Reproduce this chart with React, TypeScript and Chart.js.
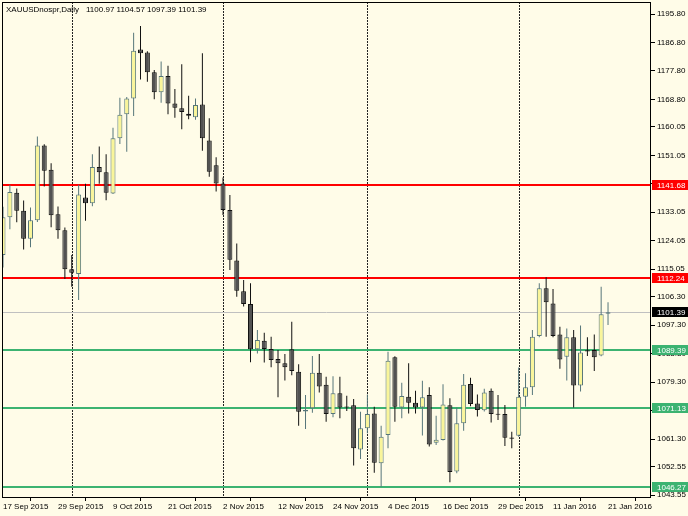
import React, { useEffect, useRef } from 'react';
import { Chart, registerables } from 'chart.js';
Chart.register(...registerables);

// ---- data ----
const dates = [
  '17 Sep 2015','18 Sep 2015','21 Sep 2015','22 Sep 2015','23 Sep 2015','24 Sep 2015','25 Sep 2015','28 Sep 2015','29 Sep 2015','30 Sep 2015',
  '1 Oct 2015','2 Oct 2015','5 Oct 2015','6 Oct 2015','7 Oct 2015','8 Oct 2015','9 Oct 2015','12 Oct 2015','13 Oct 2015','14 Oct 2015','15 Oct 2015','16 Oct 2015','19 Oct 2015','20 Oct 2015','21 Oct 2015','22 Oct 2015','23 Oct 2015','26 Oct 2015','27 Oct 2015','28 Oct 2015','29 Oct 2015','30 Oct 2015',
  '2 Nov 2015','3 Nov 2015','4 Nov 2015','5 Nov 2015','6 Nov 2015','9 Nov 2015','10 Nov 2015','11 Nov 2015','12 Nov 2015','13 Nov 2015','16 Nov 2015','17 Nov 2015','18 Nov 2015','19 Nov 2015','20 Nov 2015','23 Nov 2015','24 Nov 2015','25 Nov 2015','26 Nov 2015','27 Nov 2015','30 Nov 2015',
  '1 Dec 2015','2 Dec 2015','3 Dec 2015','4 Dec 2015','7 Dec 2015','8 Dec 2015','9 Dec 2015','10 Dec 2015','11 Dec 2015','14 Dec 2015','15 Dec 2015','16 Dec 2015','17 Dec 2015','18 Dec 2015','21 Dec 2015','22 Dec 2015','23 Dec 2015','24 Dec 2015','28 Dec 2015','29 Dec 2015','30 Dec 2015','31 Dec 2015',
  '4 Jan 2016','5 Jan 2016','6 Jan 2016','7 Jan 2016','8 Jan 2016','11 Jan 2016','12 Jan 2016','13 Jan 2016','14 Jan 2016','15 Jan 2016','18 Jan 2016','19 Jan 2016','20 Jan 2016','21 Jan 2016',
];

const opens = [
  1119.5,1131.5,1139.2,1133.5,1124.7,1130.5,1154.2,1146.5,1132.4,1127.4,
  1115.0,1113.5,1137.7,1135.9,1147.4,1145.7,1139.0,1156.5,1164.1,1169.1,1184.6,1183.6,1177.4,1171.0,1176.2,1167.5,1166.0,1164.2,1163.1,1167.2,1155.8,1147.9,
  1142.2,1133.8,1117.8,1108.1,1104.0,1089.7,1092.4,1089.8,1086.6,1085.3,1089.7,1082.6,1070.0,1071.0,1082.3,1078.5,1069.2,1075.8,1071.5,1072.0,1058.0,
  1064.7,1069.4,1053.6,1062.6,1087.2,1071.3,1074.7,1072.8,1071.3,1075.2,1060.1,1061.0,1072.0,1051.0,1066.3,1078.7,1072.5,1070.4,1076.6,1069.3,1069.2,1061.8,
  1062.3,1074.7,1077.7,1093.9,1109.0,1104.2,1094.4,1087.3,1093.5,1078.2,1089.4,1089.5,1087.7,1100.97,
];
const highs = [
  1134.8,1141.8,1140.6,1136.8,1134.6,1157.0,1154.6,1148.6,1134.9,1128.2,
  1119.5,1141.8,1142.1,1151.4,1153.9,1151.4,1159.8,1169.3,1169.5,1189.9,1192.0,1184.0,1178.1,1180.8,1179.4,1172.1,1179.9,1169.9,1169.1,1183.4,1162.8,1150.5,
  1144.1,1138.5,1123.2,1111.6,1110.6,1095.8,1094.9,1093.7,1089.5,1088.2,1098.4,1085.0,1075.2,1087.6,1088.2,1081.0,1081.2,1081.0,1075.0,1074.0,1069.9,
  1075.4,1071.5,1065.5,1088.9,1087.5,1079.1,1085.3,1076.6,1079.7,1077.7,1068.7,1078.6,1074.2,1071.3,1081.9,1080.7,1075.4,1077.2,1077.3,1075.2,1072.1,1063.6,
  1083.9,1082.1,1095.8,1110.6,1112.5,1108.8,1096.8,1096.3,1095.8,1097.2,1093.5,1094.4,1109.5,1104.57,
];
const lows = [
  1115.6,1127.7,1129.9,1121.3,1122.0,1130.0,1141.2,1128.3,1124.7,1111.9,
  1109.5,1105.3,1130.4,1135.0,1142.1,1136.9,1138.8,1154.7,1152.2,1163.5,1175.1,1174.4,1168.8,1167.7,1164.1,1163.0,1159.3,1162.5,1162.3,1152.5,1144.3,1139.6,
  1132.2,1114.8,1106.3,1103.2,1085.6,1088.4,1085.5,1084.0,1074.5,1079.8,1081.5,1065.5,1064.5,1069.6,1076.0,1066.8,1068.2,1067.9,1070.2,1052.9,1055.0,
  1063.1,1050.6,1046.2,1058.4,1066.8,1067.9,1069.4,1069.4,1062.4,1058.9,1059.4,1060.8,1047.6,1050.5,1063.9,1071.7,1068.4,1070.0,1066.5,1067.3,1059.1,1058.4,
  1062.0,1071.5,1075.2,1093.5,1093.7,1093.5,1083.5,1079.8,1071.3,1076.3,1087.6,1082.8,1087.5,1097.39,
];
const closes = [
  1131.5,1139.5,1133.5,1124.7,1130.5,1154.2,1146.2,1132.1,1127.4,1115.0,
  1113.9,1138.7,1135.9,1147.4,1145.7,1139.2,1156.5,1163.9,1169.1,1184.2,1183.4,1177.4,1171.0,1176.2,1167.5,1166.1,1164.8,1163.6,1167.0,1156.5,1145.9,1142.2,
  1133.8,1118.0,1108.2,1104.0,1089.7,1092.6,1089.8,1086.3,1085.3,1084.0,1082.8,1069.9,1070.5,1082.3,1077.9,1069.2,1075.8,1071.3,1071.3,1058.4,1064.7,
  1069.2,1053.8,1062.0,1086.1,1071.5,1074.9,1072.8,1071.3,1074.5,1059.6,1061.1,1072.2,1050.9,1066.3,1078.5,1072.4,1070.5,1076.0,1069.2,1069.0,1061.7,1061.4,
  1074.7,1077.7,1093.7,1109.0,1104.6,1093.9,1086.5,1093.5,1078.2,1088.7,1089.0,1087.2,1100.8,1101.39,
];

const yTickValues = [
  1195.80,1186.80,1177.80,1168.80,1160.05,1151.05,1142.05,1133.05,1124.05,
  1115.05,1106.30,1097.30,1088.30,1079.30,1070.30,1061.30,1052.55,1043.55,
];
const xLabelEvery = 8;
const redLevels = [1141.68, 1112.24];
const greenLevels = [1089.39, 1071.13, 1046.27];
const bidPrice = 1101.39;
const symbolTitle = 'XAUUSDnospr,Daily';
const lastBar = { o: 1100.97, h: 1104.57, l: 1097.39, c: 1101.39 };

const priceMin = 1042.95;
const priceMax = 1199.6;
const xMin = -0.145;
const xMax = 94.25;

// ---- style ----
const BG = '#fffce8';
const BULL_FILL = '#f9f59a';
const BULL_LINE = '#56767a';
const BEAR_FILL = '#525252';
const BEAR_LINE = '#111111';
const RED = '#ff0000';
const GREEN = '#3cb371';
const FONT = 'Liberation Sans, Arial, sans-serif';

export default function App() {
  const ref = useRef<HTMLCanvasElement>(null);

  useEffect(() => {
    const bull = closes.map((c, i) => c >= opens[i]);
    const monthStarts: number[] = [];
    for (let i = 1; i < dates.length; i++) {
      if (dates[i].split(' ')[1] !== dates[i - 1].split(' ')[1]) monthStarts.push(i);
    }

    const overlay = {
      id: 'mt4overlay',
      beforeDraw(chart: any) {
        const ctx = chart.ctx;
        ctx.save();
        ctx.fillStyle = BG;
        ctx.fillRect(0, 0, chart.width, chart.height);
        ctx.restore();
      },
      beforeDatasetsDraw(chart: any) {
        const { ctx, chartArea: a, scales } = chart;
        const xs = scales.x, ys = scales.y;
        ctx.save();
        // month separators
        ctx.strokeStyle = '#222';
        ctx.lineWidth = 1;
        ctx.setLineDash([2, 1]);
        monthStarts.forEach((i) => {
          const px = Math.round(xs.getPixelForValue(i)) + 0.5;
          ctx.beginPath();
          ctx.moveTo(px, a.top);
          ctx.lineTo(px, a.bottom);
          ctx.stroke();
        });
        ctx.setLineDash([]);
        // bid line
        const by = Math.round(ys.getPixelForValue(bidPrice)) + 0.5;
        ctx.strokeStyle = '#c0c0c0';
        ctx.beginPath();
        ctx.moveTo(a.left, by);
        ctx.lineTo(a.right, by);
        ctx.stroke();
        // levels
        const drawLevel = (v: number, col: string) => {
          const y = Math.round(ys.getPixelForValue(v));
          ctx.fillStyle = col;
          ctx.fillRect(a.left, y - 1, a.right - a.left, 2);
        };
        redLevels.forEach((v) => drawLevel(v, RED));
        greenLevels.forEach((v) => drawLevel(v, GREEN));
        ctx.restore();
      },
      afterDraw(chart: any) {
        const { ctx, chartArea: a, scales } = chart;
        const ys = scales.y;
        ctx.save();
        // frame
        ctx.strokeStyle = '#000';
        ctx.lineWidth = 1;
        ctx.strokeRect(a.left + 0.5, a.top + 0.5, a.right - a.left - 1, a.bottom - a.top);
        // price boxes
        ctx.font = `8px ${FONT}`;
        ctx.textBaseline = 'middle';
        ctx.textAlign = 'left';
        const box = (v: number, col: string) => {
          const y = Math.round(ys.getPixelForValue(v));
          ctx.fillStyle = col;
          ctx.fillRect(a.right + 1, y - 5, chart.width - a.right - 1, 10);
          ctx.fillStyle = '#ffffff';
          ctx.fillText(v.toFixed(2), a.right + 6, y + 0.5);
        };
        redLevels.forEach((v) => box(v, RED));
        greenLevels.forEach((v) => box(v, GREEN));
        box(bidPrice, '#000000');
        // title
        ctx.fillStyle = '#000';
        ctx.textBaseline = 'alphabetic';
        ctx.fillText(symbolTitle, 6, 12);
        ctx.fillText(
          [lastBar.o, lastBar.h, lastBar.l, lastBar.c].map((v) => v.toFixed(2)).join(' '),
          86,
          12
        );
        ctx.restore();
      },
    };

    const chart = new Chart(ref.current as HTMLCanvasElement, {
      type: 'bar',
      data: {
        datasets: [
          {
            label: 'body',
            data: dates.map((_, i) => ({ x: i, y: [opens[i], closes[i]] })) as any,
            backgroundColor: bull.map((b) => (b ? BULL_FILL : BEAR_FILL)),
            borderColor: bull.map((b) => (b ? BULL_LINE : BEAR_LINE)),
            borderWidth: 1,
            borderSkipped: false,
            barThickness: 5,
            minBarLength: 1,
            grouped: false,
            inflateAmount: 0,
          } as any,
          {
            label: 'wick',
            data: dates.map((_, i) => ({ x: i, y: [lows[i], highs[i]] })) as any,
            backgroundColor: bull.map((b) => (b ? BULL_LINE : BEAR_LINE)),
            borderWidth: 0,
            barThickness: 1,
            grouped: false,
            inflateAmount: 0,
          } as any,
        ],
      },
      options: {
        animation: false,
        responsive: false,
        devicePixelRatio: 1,
        layout: { padding: { left: 2, top: 2, right: 0, bottom: 0 } },
        plugins: { legend: { display: false }, tooltip: { enabled: false } },
        scales: {
          x: {
            type: 'linear',
            position: 'bottom',
            min: xMin,
            max: xMax,
            offset: false,
            afterBuildTicks: (s: any) => {
              s.ticks = dates
                .map((_, i) => i)
                .filter((i) => i % xLabelEvery === 0)
                .map((v) => ({ value: v }));
            },
            afterFit: (s: any) => {
              s.height = 19;
              s.paddingLeft = 0;
              s.paddingRight = 0;
            },
            ticks: {
              callback: (v: any) => dates[Math.round(v)] ?? '',
              align: 'start',
              maxRotation: 0,
              minRotation: 0,
              autoSkip: false,
              color: '#000',
              font: { family: FONT, size: 8 },
              padding: 1,
            },
            grid: { display: true, drawOnChartArea: false, drawTicks: true, tickLength: 4, color: '#000' },
            border: { display: false },
          } as any,
          y: {
            type: 'linear',
            position: 'right',
            min: priceMin,
            max: priceMax,
            afterBuildTicks: (s: any) => {
              s.ticks = yTickValues.map((v) => ({ value: v }));
            },
            afterFit: (s: any) => {
              s.width = 37;
              s.paddingTop = 0;
              s.paddingBottom = 0;
            },
            ticks: {
              callback: (v: any) => Number(v).toFixed(2),
              autoSkip: false,
              color: '#000',
              font: { family: FONT, size: 8 },
              padding: 2,
            },
            grid: { display: true, drawOnChartArea: false, drawTicks: true, tickLength: 4, color: '#000' },
            border: { display: false },
          } as any,
        },
      },
      plugins: [overlay],
    });
    return () => chart.destroy();
  }, []);

  return (
    <div style={{ position: 'fixed', left: 0, top: 0, width: 688, height: 516, background: BG }}>
      <canvas ref={ref} width={688} height={516} style={{ display: 'block' }} />
    </div>
  );
}
